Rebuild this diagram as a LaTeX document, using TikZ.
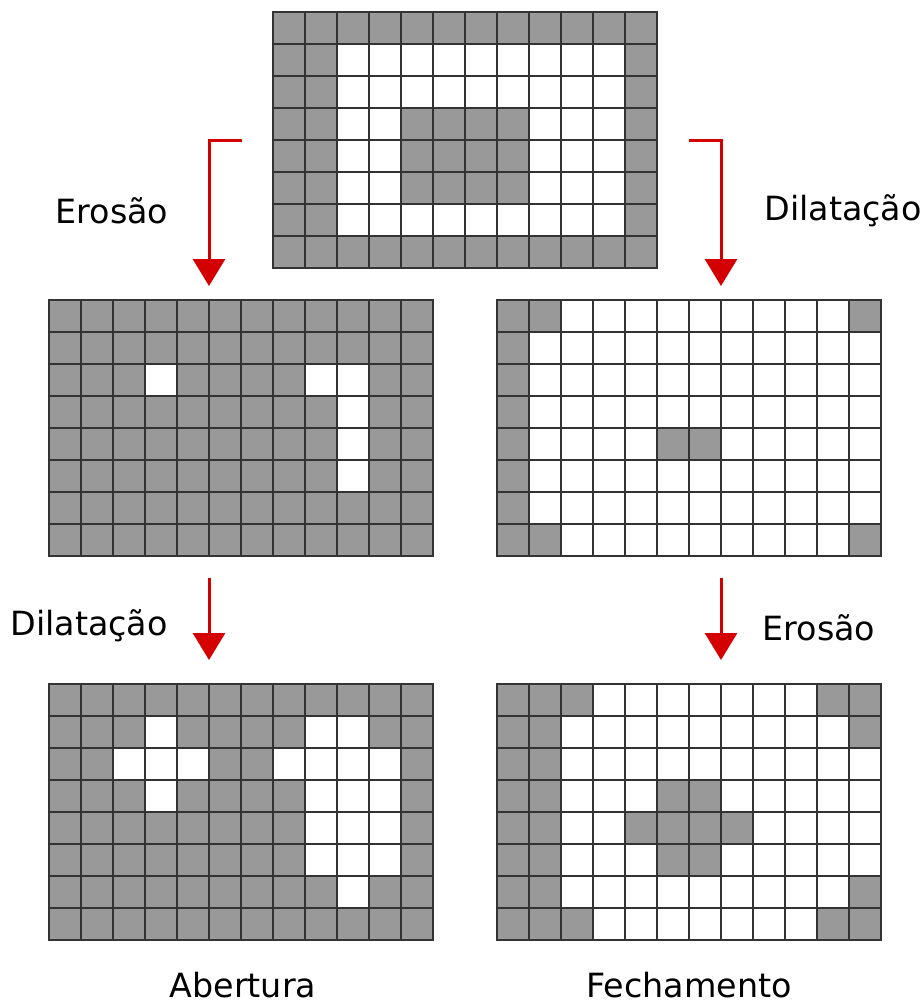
\documentclass[tikz,border=0pt]{standalone}
\usepackage{fontspec}
\setmainfont{DejaVu Sans}
\usetikzlibrary{positioning,arrows.meta}
\definecolor{morphRed}{RGB}{212,0,0}
\definecolor{morphGray}{RGB}{153,153,153}
\definecolor{morphLine}{RGB}{51,51,51}

\tikzset{
  cellon/.style={fill=morphGray,draw=morphLine,line width=0.8pt},
  celloff/.style={fill=white,draw=morphLine,line width=0.8pt},
  gridbox/.style={inner sep=0pt,minimum width=288pt,minimum height=192pt,anchor=north west},
  flow/.style={morphRed,line width=2.25pt,-{Triangle[length=20.25pt,width=24pt]}},
  oplabel/.style={anchor=base,inner sep=1pt,font=\fontsize{25}{30}\selectfont},
}

% grid of 12x8 cells: node, base style, other style, list of col/row cells
\newcommand{\morphgrid}[4]{%
  \begin{scope}[shift={(#1.north west)}]
    \foreach \c in {0,...,11}
      \foreach \r in {0,...,7}
        \draw[#2] (32*\c,32*\r) rectangle ++(32,32);
    \foreach \c/\r in {#4}
      \draw[#3] (32*\c,32*\r) rectangle ++(32,32);
  \end{scope}}

\begin{document}
\begin{tikzpicture}[x=0.75pt,y=-0.75pt]
  \useasboundingbox (0,0) rectangle (921,1002);
  % grids
  \node[gridbox] (orig) at (273,12) {};
  \node[gridbox] (ero) at (49,300) {};
  \node[gridbox] (dil) at (497,300) {};
  \node[gridbox] (aber) at (49,684) {};
  \node[gridbox] (fech) at (497,684) {};

  % original image
  \morphgrid{orig}{cellon}{celloff}{2/1,3/1,4/1,5/1,6/1,7/1,8/1,9/1,10/1,
    2/2,3/2,4/2,5/2,6/2,7/2,8/2,9/2,10/2,
    2/3,3/3,8/3,9/3,10/3, 2/4,3/4,8/4,9/4,10/4, 2/5,3/5,8/5,9/5,10/5,
    2/6,3/6,4/6,5/6,6/6,7/6,8/6,9/6,10/6}
  % erosion
  \morphgrid{ero}{cellon}{celloff}{3/2,8/2,9/2,9/3,9/4,9/5}
  % dilation
  \morphgrid{dil}{celloff}{cellon}{0/0,0/1,0/2,0/3,0/4,0/5,0/6,0/7,
    1/0,1/7,11/0,11/7,5/4,6/4}
  % opening
  \morphgrid{aber}{cellon}{celloff}{3/1,8/1,9/1,
    2/2,3/2,4/2,7/2,8/2,9/2,10/2, 3/3,8/3,9/3,10/3,
    8/4,9/4,10/4, 8/5,9/5,10/5, 9/6}
  % closing
  \morphgrid{fech}{celloff}{cellon}{0/0,0/1,0/2,0/3,0/4,0/5,0/6,0/7,
    1/0,1/1,1/2,1/3,1/4,1/5,1/6,1/7, 2/0,10/0,11/0,11/1,
    5/3,6/3,4/4,5/4,6/4,7/4,5/5,6/5, 11/6,2/7,10/7,11/7}

  % arrows
  \coordinate[left=23.25pt of orig] (erostart);
  \coordinate[right=23.25pt of orig] (dilstart);
  \coordinate (erotip) at (209,286);
  \coordinate (diltip) at (721,286);
  \coordinate (abstart) at (209,578);
  \coordinate (abtip) at (209,660);
  \coordinate (fcstart) at (721,578);
  \coordinate (fctip) at (721,660);
  \draw[flow] (erostart) -| (erotip);
  \draw[flow] (dilstart) -| (diltip);
  \draw[flow] (abstart) -- (abtip);
  \draw[flow] (fcstart) -- (fctip);

  % labels
  \node[oplabel] (lero) at (112,223) {Erosão};
  \node[oplabel] (ldil) at (843,220) {Dilatação};
  \node[oplabel] (ldil2) at (89,635) {Dilatação};
  \node[oplabel] (lero2) at (819,640) {Erosão};
  \node[oplabel] (labe) at (243,997) {Abertura};
  \node[oplabel] (lfec) at (689,997) {Fechamento};
\end{tikzpicture}
\end{document}
